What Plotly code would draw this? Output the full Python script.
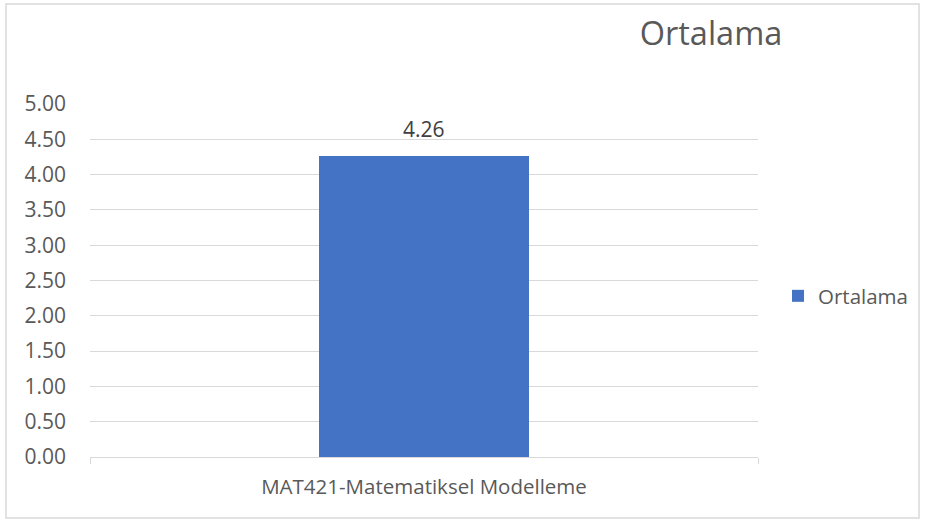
import plotly.graph_objects as go

categories = ["MAT421-Matematiksel Modelleme"]
values = [4.26]
series_name = "Ortalama"
y_ticks = [0, 0.5, 1, 1.5, 2, 2.5, 3, 3.5, 4, 4.5, 5]

W, H = 925, 524
L, R, T, B = 90, 758, 104, 457
pw, ph = R - L, B - T

font = "'Open Sans', sans-serif"
tc = "#595959"

fig = go.Figure()
fig.add_trace(go.Bar(
    x=categories, y=values, name=series_name,
    marker=dict(color="#4472C4", line=dict(width=0)),
    width=0.314,
))
for c, v in zip(categories, values):
    fig.add_annotation(x=c, y=v, text=f"{v:.2f}", showarrow=False,
                       yanchor="bottom", yshift=11,
                       font=dict(size=21, color="#404040", family=font))

fig.update_layout(
    width=W, height=H,
    margin=dict(l=L, r=W - R, t=T, b=H - B, pad=0),
    paper_bgcolor="white", plot_bgcolor="white",
    font=dict(family=font, size=21, color=tc),
    title=dict(text="Ortalama", x=711 / W, xanchor="center", xref="container",
               y=1 - 34 / H, yanchor="middle", yref="container",
               font=dict(size=32.5, color=tc, family=font)),
    showlegend=True,
    legend=dict(x=(778 - L) / pw, y=(B - 296) / ph, xanchor="left", yanchor="middle",
                font=dict(size=20.5, color=tc, family=font),
                itemwidth=30, bgcolor="rgba(0,0,0,0)"),
    bargap=0,
    yaxis=dict(range=[0, 5], tickvals=y_ticks, tickformat=".2f",
               showgrid=True, gridcolor="#d9d9d9", gridwidth=1,
               zeroline=False, showline=False, ticks="",
               ticklabelstandoff=23, tickfont=dict(size=21, color=tc)),
    xaxis=dict(showline=True, linecolor="#d9d9d9", linewidth=1,
               ticks="outside", tickson="boundaries", ticklen=6, tickcolor="#d9d9d9",
               ticklabelstandoff=11, tickfont=dict(size=20.5, color=tc)),
)

fig.add_shape(type="rect", xref="paper", yref="paper",
              x0=(6 - L) / pw, x1=(919 - L) / pw,
              y0=(B - 518) / ph, y1=(B - 4) / ph,
              line=dict(color="#d9d9d9", width=1.5), fillcolor="rgba(0,0,0,0)", layer="below")

fig.write_html("out.html", config={"displayModeBar": False},
               post_script="document.body.style.margin='0';")
